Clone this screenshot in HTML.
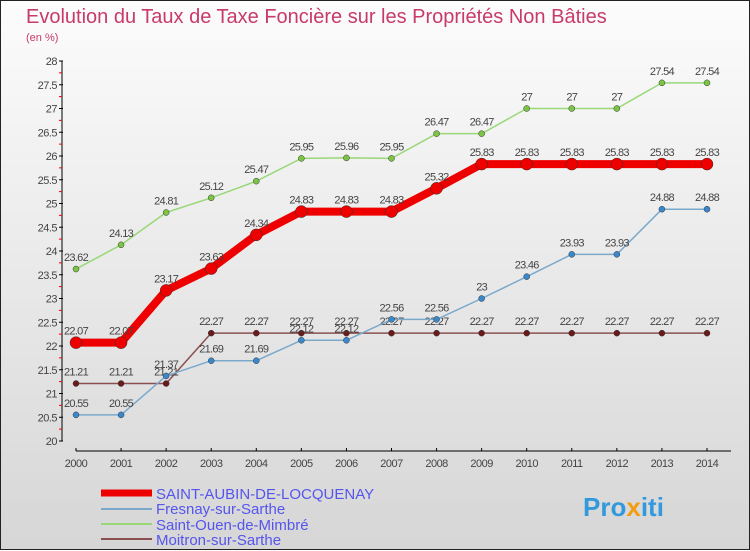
<!DOCTYPE html>
<html><head><meta charset="utf-8"><style>
body{margin:0;width:750px;height:550px;overflow:hidden;font-family:"Liberation Sans",sans-serif}
#wrap{position:relative;width:748px;height:548px;border:1px solid #222;background:linear-gradient(#fcfcfc,#d6d6d6)}
svg{position:absolute;left:0;top:0}
</style></head><body>
<div id="wrap">
<svg id="chart" width="750" height="550">
<text x="25" y="22" font-size="20" fill="#c83a6a">Evolution du Taux de Taxe Foncière sur les Propriétés Non Bâties</text>
<text x="25" y="40" font-size="11" fill="#c83a6a">(en %)</text>
<g id="axes"></g><g id="series"></g>
<g>
<line x1="100" y1="492" x2="151" y2="492" stroke="#e00" stroke-width="7"/>
<text x="155" y="498" font-size="15" fill="#5555ee">SAINT-AUBIN-DE-LOCQUENAY</text>
<line x1="100" y1="508" x2="151" y2="508" stroke="#7aa9cc" stroke-width="2"/>
<text x="155" y="513" font-size="15" fill="#5555ee">Fresnay-sur-Sarthe</text>
<line x1="100" y1="523" x2="151" y2="523" stroke="#99d777" stroke-width="2"/>
<text x="155" y="529" font-size="15" fill="#5555ee">Saint-Ouen-de-Mimbré</text>
<line x1="100" y1="538" x2="151" y2="538" stroke="#8a5050" stroke-width="2"/>
<text x="155" y="544" font-size="15" fill="#5555ee">Moitron-sur-Sarthe</text>
</g>
<text x="582" y="515" font-size="26" font-weight="bold" fill="#3399dd">Pro<tspan fill="#f39c12">x</tspan>iti</text>
</svg></div>
<script>
const years=[2000,2001,2002,2003,2004,2005,2006,2007,2008,2009,2010,2011,2012,2013,2014];
const yTicks=[20,20.5,21,21.5,22,22.5,23,23.5,24,24.5,25,25.5,26,26.5,27,27.5,28];
const saintAubin=[22.07,22.07,23.17,23.63,24.34,24.83,24.83,24.83,25.32,25.83,25.83,25.83,25.83,25.83,25.83];
const fresnay=[20.55,20.55,21.37,21.69,21.69,22.12,22.12,22.56,22.56,23,23.46,23.93,23.93,24.88,24.88];
const saintOuen=[23.62,24.13,24.81,25.12,25.47,25.95,25.96,25.95,26.47,26.47,27,27,27,27.54,27.54];
const moitron=[21.21,21.21,21.21,22.27,22.27,22.27,22.27,22.27,22.27,22.27,22.27,22.27,22.27,22.27,22.27];
const NS="http://www.w3.org/2000/svg";
const xS=i=>75+i*(706-75)/(years.length-1);
const yS=v=>440-(v-20)*(380/8);
function mk(tag,attrs,parent){const e=document.createElementNS(NS,tag);for(const k in attrs)e.setAttribute(k,attrs[k]);parent.appendChild(e);return e;}
const ax=document.getElementById('axes');
const yl=mk('line',{x1:61,y1:60,x2:61,y2:440,stroke:'#000'},ax);


yTicks.forEach(v=>{const y=yS(v);
mk('line',{x1:58,y1:y,x2:62,y2:y,stroke:'#000'},ax);
if(v<28)mk('line',{x1:58,y1:y-11.9,x2:61,y2:y-11.9,stroke:'#e00'},ax);
const t=mk('text',{x:56,y:y+4,'font-size':11,fill:'#444','text-anchor':'end','letter-spacing':'-0.5'},ax);t.textContent=v;

});
const xl=mk('line',{x1:75,y1:450,x2:730,y2:450,stroke:'#000'},ax);


years.forEach((yr,i)=>{const x=xS(i);mk('line',{x1:x,y1:447,x2:x,y2:450,stroke:'#000'},ax);
const t=mk('text',{x:x,y:466,'font-size':11,fill:'#444','text-anchor':'middle','letter-spacing':'-0.5'},ax);t.textContent=yr;

});
const sg=document.getElementById('series');
function draw(vals,color,w,r,dot,name){
const g=mk('g',{},sg);


mk('polyline',{points:vals.map((v,i)=>xS(i)+','+yS(v)).join(' '),fill:'none',stroke:color,'stroke-width':w,'stroke-linejoin':'round'},g);
vals.forEach((v,i)=>{const c=mk('circle',{cx:xS(i),cy:yS(v),r:r,fill:dot,stroke:'#333','stroke-width':0.5},g);


const t=mk('text',{x:xS(i),y:yS(v)-8,'font-size':11,fill:'#444','text-anchor':'middle','letter-spacing':'-0.7'},g);t.textContent=v;

});}
draw(saintOuen,'#99d777',1.5,3,'#7cc444','series-saint-ouen');
draw(moitron,'#8a5050',1.5,3,'#6a1a1a','series-moitron');
draw(fresnay,'#7aa9cc',1.5,3,'#3a88cc','series-fresnay');
draw(saintAubin,'#ee0000',8,6,'#ee0000','series-saint-aubin');
</script>
</body></html>
